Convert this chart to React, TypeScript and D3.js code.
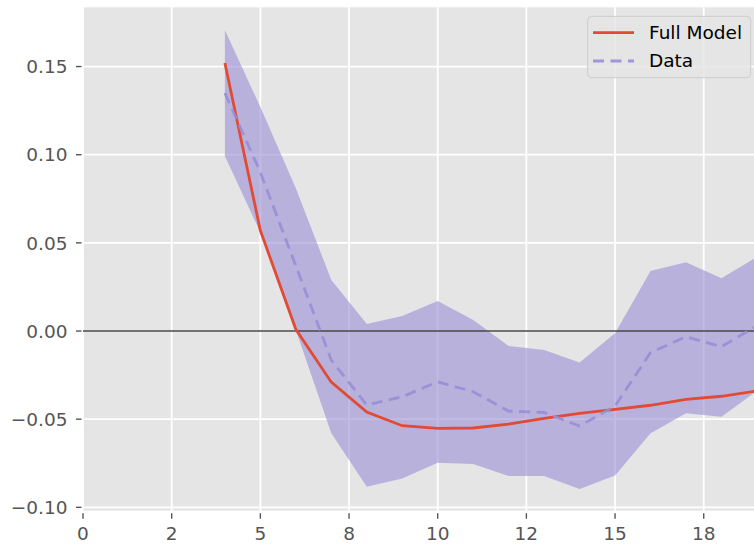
import React from "react";
import * as d3 from "d3";

const xs = [4, 5, 6, 7, 8, 9, 10, 11, 12, 13, 14, 15, 16, 17, 18, 19];
const modelValues = [0.152, 0.057, 0.001, -0.029, -0.046, -0.0537, -0.0552, -0.055, -0.0528, -0.0495, -0.0467, -0.0444, -0.0421, -0.0388, -0.037, -0.034];
const dataValues = [0.135, 0.09, 0.037, -0.0165, -0.042, -0.0373, -0.0288, -0.0344, -0.0454, -0.0462, -0.0539, -0.0425, -0.0123, -0.0032, -0.0089, 0.003];
const upperValues = [0.1707, 0.127, 0.081, 0.029, 0.004, 0.0085, 0.017, 0.0062, -0.0085, -0.0108, -0.0178, -0.0013, 0.034, 0.039, 0.03, 0.042];
const lowerValues = [0.0993, 0.056, 0.0006, -0.058, -0.0883, -0.0836, -0.0747, -0.0754, -0.0822, -0.0822, -0.0896, -0.082, -0.058, -0.0467, -0.0486, -0.034];

const xTicks = [0, 2.5, 5, 7.5, 10, 12.5, 15, 17.5];
const xTickLabels = ["0", "2", "5", "8", "10", "12", "15", "18"];
const yTicks = [-0.1, -0.05, 0, 0.05, 0.1, 0.15];
const yTickLabels = ["−0.10", "−0.05", "0.00", "0.05", "0.10", "0.15"];

const W = 754;
const H = 545;
const LEFT = 83;
const TOP = 7.3;
const BOTTOM = 510.7;
const PX_PER_UNIT = 35.47;
const X_MAX = 20;

export default function App() {
  const x = d3.scaleLinear().domain([0, X_MAX]).range([LEFT, LEFT + PX_PER_UNIT * X_MAX]);
  const y = d3.scaleLinear().domain([-0.1019, 0.1836]).range([BOTTOM, TOP]);
  const right = x(X_MAX);

  const idx = xs.map((_, i) => i);
  const area = d3
    .area<number>()
    .x((i) => x(xs[i]))
    .y0((i) => y(lowerValues[i]))
    .y1((i) => y(upperValues[i]));
  const modelLine = d3
    .line<number>()
    .x((i) => x(xs[i]))
    .y((i) => y(modelValues[i]));
  const dataLine = d3
    .line<number>()
    .x((i) => x(xs[i]))
    .y((i) => y(dataValues[i]));

  const font = "DejaVu Sans, sans-serif";
  const red = "#E24A33";
  const purple = "#988ED5";
  const fs = 18.5;

  return (
    <svg
      width={W}
      height={H}
      style={{ position: "absolute", left: 0, top: 0, background: "#fff" }}
      fontFamily={font}
    >
      <defs>
        <clipPath id="plotclip">
          <rect x={LEFT} y={TOP} width={right - LEFT} height={BOTTOM - TOP} />
        </clipPath>
      </defs>
      <rect x={LEFT} y={TOP} width={right - LEFT} height={BOTTOM - TOP} fill="#E5E5E5" />
      {xTicks.map((t) => (
        <line key={"gx" + t} x1={x(t)} x2={x(t)} y1={TOP} y2={BOTTOM} stroke="#fff" strokeWidth={1.8} />
      ))}
      {yTicks.map((t) => (
        <line key={"gy" + t} x1={LEFT} x2={right} y1={y(t)} y2={y(t)} stroke="#fff" strokeWidth={1.8} />
      ))}
      <g clipPath="url(#plotclip)">
        <path d={area(idx) || ""} fill={purple} fillOpacity={0.6} stroke="none" />
        <line x1={LEFT} x2={right} y1={y(0)} y2={y(0)} stroke="#444" strokeWidth={1.4} />
        <path d={modelLine(idx) || ""} fill="none" stroke={red} strokeWidth={2.8} />
        <path
          d={dataLine(idx) || ""}
          fill="none"
          stroke={purple}
          strokeOpacity={0.9}
          strokeWidth={2.8}
          strokeDasharray="11 6.5"
        />
      </g>
      {xTicks.map((t, i) => (
        <g key={"tx" + t}>
          <line x1={x(t)} x2={x(t)} y1={BOTTOM + 2.5} y2={BOTTOM + 8} stroke="#555" strokeWidth={1.4} />
          <text x={x(t)} y={540} textAnchor="middle" fontSize={fs} fill="#555">
            {xTickLabels[i]}
          </text>
        </g>
      ))}
      {yTicks.map((t, i) => (
        <g key={"ty" + t}>
          <line x1={LEFT - 7} x2={LEFT - 1.5} y1={y(t)} y2={y(t)} stroke="#555" strokeWidth={1.4} />
          <text x={67.5} y={y(t)} dy="0.36em" textAnchor="end" fontSize={fs} fill="#555">
            {yTickLabels[i]}
          </text>
        </g>
      ))}
      <g>
        <rect x={587.7} y={16.3} width={163} height={61.4} rx={4} fill="#E5E5E5" fillOpacity={0.8} stroke="#CCCCCC" strokeWidth={1} />
        <line x1={593} x2={634} y1={32.7} y2={32.7} stroke={red} strokeWidth={2.8} />
        <text x={649} y={39} fontSize={fs} fill="#000">Full Model</text>
        <line x1={593} x2={634} y1={61} y2={61} stroke={purple} strokeOpacity={0.9} strokeWidth={2.8} strokeDasharray="11 6.5" />
        <text x={649} y={67.3} fontSize={fs} fill="#000">Data</text>
      </g>
    </svg>
  );
}
